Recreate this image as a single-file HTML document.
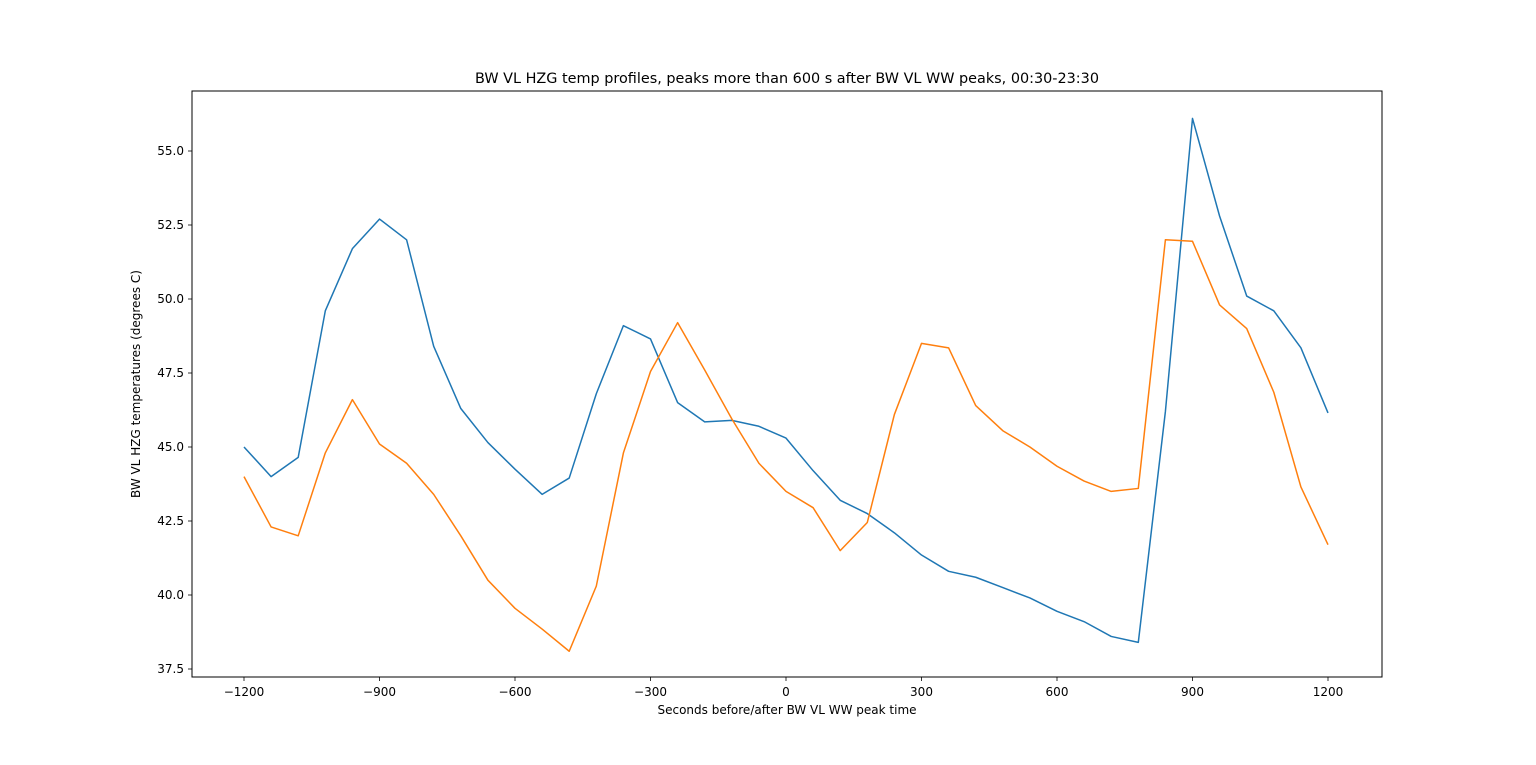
<!DOCTYPE html>
<html><head><meta charset="utf-8"><style>
body{margin:0;background:#fff;font-family:"DejaVu Sans","Liberation Sans",sans-serif;}
text{font-family:"DejaVu Sans","Liberation Sans",sans-serif;fill:#000;}
</style></head><body>
<svg id="chart" width="1536" height="761" xmlns="http://www.w3.org/2000/svg">
<rect width="1536" height="761" fill="#fff"/>
<g id="plot"></g>
</svg>
<script>
const seconds=[];for(let s=-1200;s<=1200;s+=60)seconds.push(s);
const blueValues=[45.0,44.0,44.65,49.6,51.7,52.7,52.0,48.4,46.3,45.15,44.25,43.4,43.95,46.8,49.1,48.65,46.5,45.85,45.9,45.7,45.3,44.2,43.2,42.75,42.1,41.35,40.8,40.6,40.25,39.9,39.45,39.1,38.6,38.4,46.2,56.1,52.8,50.1,49.6,48.35,46.15];
const orangeValues=[44.0,42.3,42.0,44.8,46.6,45.1,44.45,43.4,42.0,40.5,39.55,38.85,38.1,40.3,44.8,47.55,49.2,47.6,45.95,44.45,43.5,42.95,41.5,42.45,46.1,48.5,48.35,46.4,45.55,45.0,44.35,43.85,43.5,43.6,52.0,51.95,49.8,49.0,46.85,43.65,41.7];
const xTicks=[-1200,-900,-600,-300,0,300,600,900,1200];
const yTicks=[37.5,40.0,42.5,45.0,47.5,50.0,52.5,55.0];

const NS="http://www.w3.org/2000/svg";
const L=192,R=1382,T=91,B=677;
const xs=v=>244+(v+1200)*(1084/2400);
const ys=v=>669-(v-37.5)*(518/17.5);
const g=document.getElementById('plot');
function mk(tag,attrs){const e=document.createElementNS(NS,tag);for(const k in attrs)e.setAttribute(k,attrs[k]);g.appendChild(e);return e;}

const frame=mk('rect',{x:L,y:T,width:R-L,height:B-T,fill:'none',stroke:'#000','stroke-width':1});



xTicks.forEach(v=>{
 const tk=mk('line',{x1:xs(v),x2:xs(v),y1:B,y2:B+4,stroke:'#000','stroke-width':0.8});
 
 
 const t=mk('text',{x:xs(v),y:B+19,'text-anchor':'middle','font-size':12});
 t.textContent=v<0?'\u2212'+(-v):String(v);
 
 
});
yTicks.forEach(v=>{
 const tk=mk('line',{x1:L-4,x2:L,y1:ys(v),y2:ys(v),stroke:'#000','stroke-width':0.8});
 
 
 const t=mk('text',{x:L-8,y:ys(v)+4,'text-anchor':'end','font-size':12});
 t.textContent=v.toFixed(1);
 
 
});

function line(vals,color,name){
 const p=mk('polyline',{points:vals.map((v,i)=>xs(seconds[i])+','+ys(v)).join(' '),fill:'none',stroke:color,'stroke-width':1.5,'stroke-linejoin':'round'});
 
 
}
line(blueValues,'#1f77b4','series-blue-line');
line(orangeValues,'#ff7f0e','series-orange-line');

const title=mk('text',{x:787,y:83,'text-anchor':'middle','font-size':14.4});
title.textContent='BW VL HZG temp profiles, peaks more than 600 s after BW VL WW peaks, 00:30-23:30';


const xl=mk('text',{x:787,y:714,'text-anchor':'middle','font-size':12});
xl.textContent='Seconds before/after BW VL WW peak time';


const yl=mk('text',{x:140,y:384,'text-anchor':'middle','font-size':12,transform:'rotate(-90 140 384)'});
yl.textContent='BW VL HZG temperatures (degrees C)';


</script>
</body></html>
